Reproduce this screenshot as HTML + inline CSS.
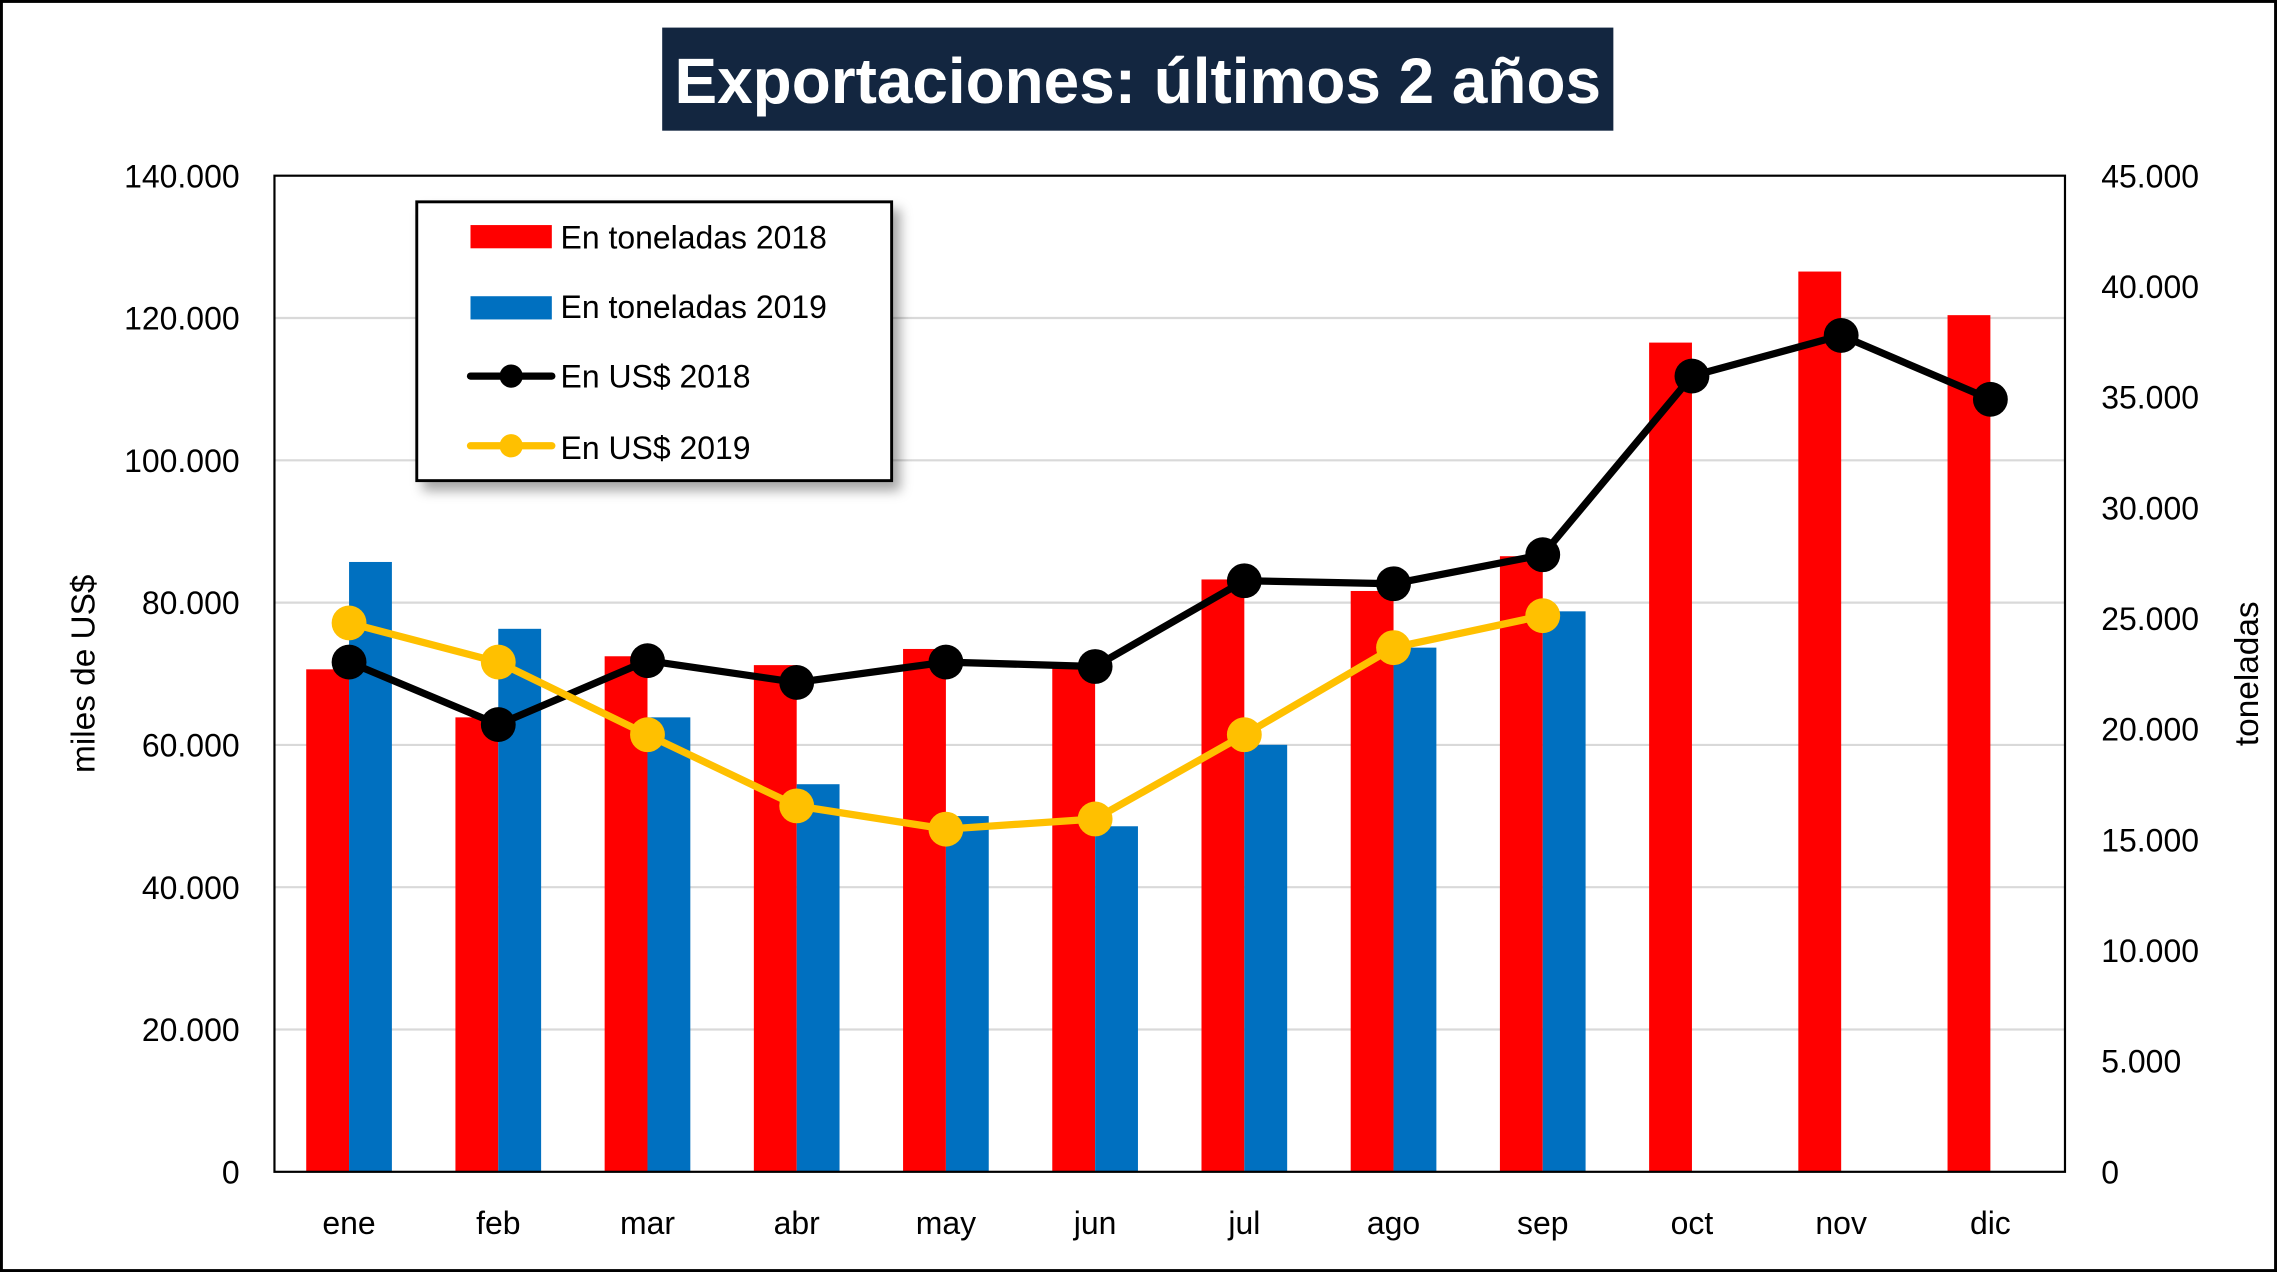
<!DOCTYPE html>
<html><head><meta charset="utf-8"><style>
html,body{margin:0;padding:0;background:#fff;}
svg{display:block;font-family:"Liberation Sans",sans-serif;}
</style></head><body>
<svg id="chart" width="2277" height="1272" viewBox="0 0 1568 876" preserveAspectRatio="none" xmlns="http://www.w3.org/2000/svg">
<defs><filter id="sh" x="-10%" y="-10%" width="130%" height="130%"><feDropShadow dx="5" dy="6" stdDeviation="4" flood-color="#000" flood-opacity="0.35"/></filter></defs>
<rect x="1" y="1" width="1566" height="874" fill="#fff" stroke="#000" stroke-width="2"/>
<rect x="456" y="19" width="655" height="71" fill="#132640"/>
<text x="783.5" y="71" text-anchor="middle" fill="#fff" font-size="44" font-weight="bold">Exportaciones: últimos 2 años</text>
<g id="grid"></g>
<g id="bars"></g>
<g id="lines"></g>
<rect x="189" y="121" width="1233" height="686" fill="none" stroke="#000" stroke-width="1.5"/>
<g id="axes"></g>
<text transform="translate(65,464) rotate(-90)" text-anchor="middle" font-size="23">miles de US$</text>
<text transform="translate(1555,464) rotate(-90)" text-anchor="middle" font-size="23">toneladas</text>
<g>
<rect x="287" y="139" width="327" height="192" fill="#fff" stroke="#000" stroke-width="2" filter="url(#sh)"/>
<rect x="324" y="155" width="56" height="16" fill="#ff0000"/>
<text x="386" y="171" font-size="22">En toneladas 2018</text>
<rect x="324" y="204" width="56" height="16" fill="#0070c0"/>
<text x="386" y="219" font-size="22">En toneladas 2019</text>
<line x1="324" y1="259" x2="380" y2="259" stroke="#000" stroke-width="5" stroke-linecap="round"/>
<circle cx="352" cy="259" r="8" fill="#000"/>
<text x="386" y="267" font-size="22">En US$ 2018</text>
<line x1="324" y1="307" x2="380" y2="307" stroke="#ffc000" stroke-width="5" stroke-linecap="round"/>
<circle cx="352" cy="307" r="8" fill="#ffc000"/>
<text x="386" y="316" font-size="22">En US$ 2019</text>
</g>
</svg>
<script>
const months = ["ene","feb","mar","abr","may","jun","jul","ago","sep","oct","nov","dic"];
const tons2018 = [22700,20530,23290,22890,23620,22830,26760,26240,27810,37460,40670,38700];
const tons2019 = [27550,24530,20530,17510,16070,15610,19290,23680,25320];
const usd2018 = [71640,62860,71840,68780,71640,71020,83070,82650,86730,111840,117550,108570];
const usd2019 = [77140,71640,61430,51430,48160,49590,61430,73670,78160];
const leftTicks = ["0","20.000","40.000","60.000","80.000","100.000","120.000","140.000"];
const rightTicks = ["0","5.000","10.000","15.000","20.000","25.000","30.000","35.000","40.000","45.000"];
const L=189,R=1422,T=121,B=807;
const NS="http://www.w3.org/2000/svg";
const yL=v=>B-(v/140000)*(B-T);
const yR=v=>B-(v/45000)*(B-T);
const step=(R-L)/months.length;
const xC=i=>L+step*(i+0.5);
function mk(tag,attrs,parent){const e=document.createElementNS(NS,tag);for(const k in attrs)e.setAttribute(k,attrs[k]);document.getElementById(parent).appendChild(e);return e;}
leftTicks.forEach((t,i)=>{const y=yL(i*20000);
 if(i>0&&i<7){const g=mk('line',{x1:L,x2:R,y1:y,y2:y,stroke:'#d9d9d9','stroke-width':1.5},'grid');
 
 }
 const tx=mk('text',{x:165,y:y+8,'text-anchor':'end','font-size':22},'axes');tx.textContent=t;
 
 });
rightTicks.forEach((t,i)=>{const y=yR(i*5000);
 const tx=mk('text',{x:1447,y:y+8,'text-anchor':'start','font-size':22},'axes');tx.textContent=t;
 
 });
months.forEach((m,i)=>{const tx=mk('text',{x:xC(i),y:850,'text-anchor':'middle','font-size':22},'axes');tx.textContent=m;
 
 });
const bw=29.5;
tons2018.forEach((v,i)=>{const b=mk('rect',{x:xC(i)-bw,y:yR(v),width:bw,height:B-yR(v),fill:'#ff0000'},'bars');
 
 });
tons2019.forEach((v,i)=>{const b=mk('rect',{x:xC(i),y:yR(v),width:bw,height:B-yR(v),fill:'#0070c0'},'bars');
 
 });
function line(data,color,name){
 const p=mk('polyline',{points:data.map((v,i)=>xC(i)+','+yL(v)).join(' '),fill:'none',stroke:color,'stroke-width':5,'stroke-linejoin':'round'},'lines');
 
 
 data.forEach((v,i)=>{const c=mk('circle',{cx:xC(i),cy:yL(v),r:12,fill:color},'lines');
 
 });
}
line(usd2018,'#000000','usd-2018');
line(usd2019,'#ffc000','usd-2019');
</script>
</body></html>
